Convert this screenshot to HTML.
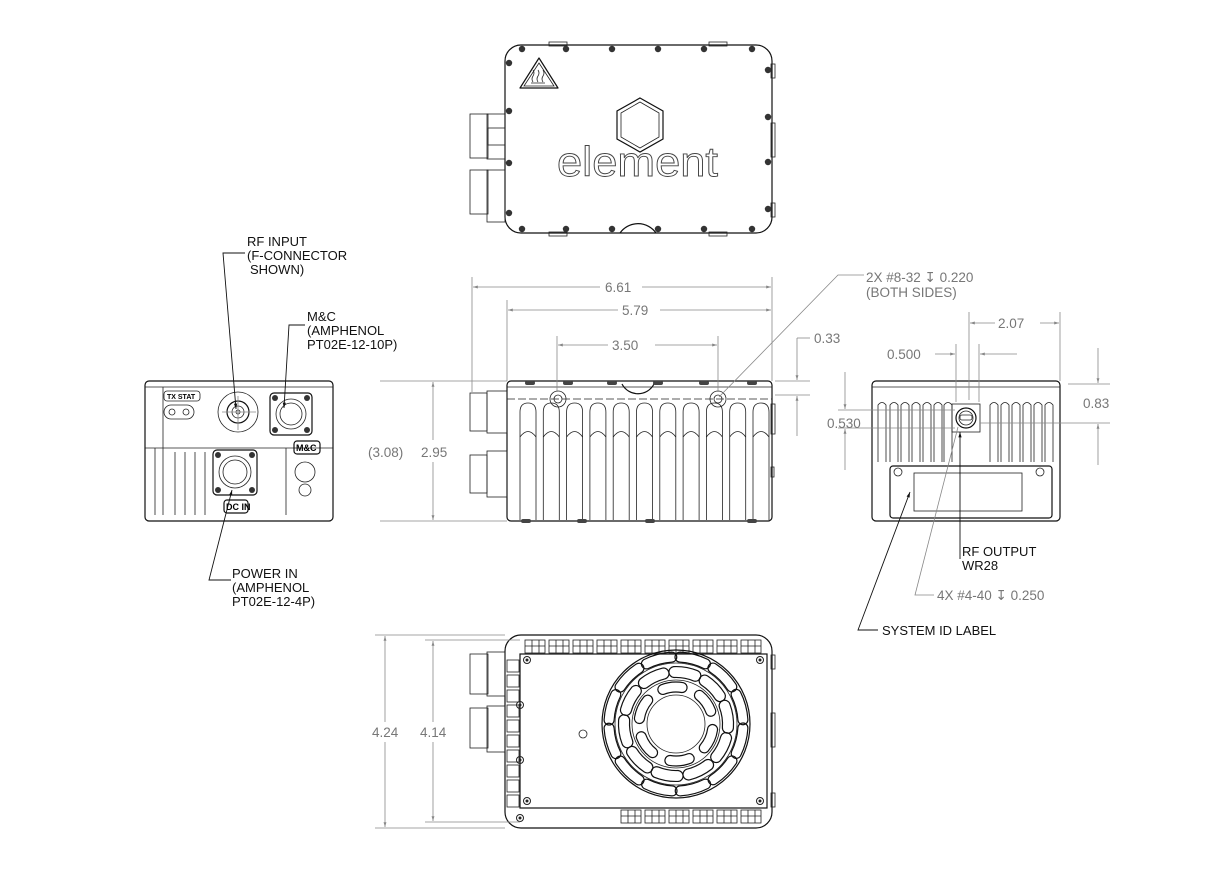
<!DOCTYPE html>
<html><head><meta charset="utf-8"><style>
html,body{margin:0;padding:0;background:#fff;}
svg{display:block;}
text{font-family:"Liberation Sans",sans-serif;}
.k{fill:#111;font-size:13px;}
.g{fill:#777;font-size:13.5px;}
.d{stroke:#888;stroke-width:0.8;fill:none;}
.b{stroke:#111;stroke-width:1.2;fill:none;}
.t{stroke:#222;stroke-width:0.8;fill:none;}
</style></head><body>
<svg id="s" width="1229" height="876" viewBox="0 0 1229 876" xmlns="http://www.w3.org/2000/svg">
<defs>
<marker id="a" viewBox="0 0 10 10" refX="10" refY="5" markerWidth="14" markerHeight="6" orient="auto-start-reverse"><path d="M0,2 L10,5 L0,8z" fill="#888"/></marker>
<marker id="ak" viewBox="0 0 10 10" refX="10" refY="5" markerWidth="12" markerHeight="6" orient="auto-start-reverse"><path d="M0,2 L10,5 L0,8z" fill="#111"/></marker>
</defs>

<!-- ============ TOP VIEW ============ -->
<g id="topv">
<rect x="505" y="45" width="267" height="188" rx="16" class="b"/>
<rect x="549" y="42" width="18" height="4" class="t"/><rect x="709" y="42" width="18" height="4" class="t"/>
<rect x="549" y="232" width="18" height="4" class="t"/><rect x="709" y="232" width="18" height="4" class="t"/>
<rect x="771" y="64" width="4" height="14" class="t"/><rect x="771" y="123" width="4" height="34" class="t"/><rect x="771" y="203" width="4" height="14" class="t"/>
<path d="M620,233 A22,22 0 0 1 656,233" class="b"/>
<path d="M539,58 L558,88 L520,88 Z" class="b" stroke-linejoin="round"/>
<path d="M539,63 L554,86 L524,86 Z" class="t"/>
<path d="M533,82 q-2,-3 0,-6 q2,-3 0,-6 M538,82 q-2,-3 0,-6 q2,-3 0,-6 M543,82 q-2,-3 0,-6 q2,-3 0,-6 M531,83 h14" class="t"/>
<path d="M640,98 L663,111 L663,139 L640,152 L617,139 L617,111 Z" class="b"/>
<path d="M640,102 L659,113 L659,137 L640,148 L621,137 L621,113 Z" class="t"/>
<text x="557" y="176" textLength="161" lengthAdjust="spacingAndGlyphs" style="font-size:42px;fill:#fff;stroke:#444;stroke-width:0.9">element</text>
<g class="t">
<rect x="470" y="114" width="18" height="44"/><rect x="487" y="114" width="18" height="45"/><rect x="488" y="128" width="17" height="17"/>
<rect x="470" y="170" width="18" height="44"/><rect x="487" y="170" width="18" height="52"/>
</g>
</g>

<!-- ============ FRONT (LEFT) VIEW ============ -->
<g id="front">
<rect x="145" y="381" width="188" height="140" rx="4" class="b"/>
<line x1="145" y1="387" x2="333" y2="387" class="t"/>
<line x1="145" y1="448" x2="333" y2="448" class="t"/>
<line x1="163" y1="387" x2="163" y2="448" class="t"/>
<rect x="164" y="391" width="36" height="10" rx="3" class="t"/>
<text x="167" y="399" style="font-size:7px;font-weight:bold">TX STAT</text>
<rect x="164" y="405" width="30" height="14" rx="7" class="t"/>
<circle cx="172" cy="412" r="3" class="t"/><circle cx="186" cy="412" r="3" class="t"/>
<circle cx="238" cy="412" r="20" class="t"/><circle cx="238" cy="412" r="11" class="b"/><circle cx="238" cy="412" r="6" class="t"/><circle cx="238" cy="412" r="2" class="t"/>
<rect x="270" y="393" width="42" height="42" rx="4" class="b"/>
<circle cx="291" cy="414" r="15" class="t"/><circle cx="291" cy="414" r="11" class="t"/>
<circle cx="275" cy="398" r="3" fill="#333"/><circle cx="307" cy="398" r="3" fill="#333"/><circle cx="275" cy="430" r="3" fill="#333"/><circle cx="307" cy="430" r="3" fill="#333"/>
<rect x="294" y="441" width="26" height="13" rx="3" class="b"/>
<text x="296" y="451" style="font-size:9px;font-weight:bold">M&amp;C</text>
<rect x="213" y="450" width="44" height="45" rx="4" class="b"/>
<circle cx="235" cy="472" r="16" class="t"/><circle cx="235" cy="472" r="12" class="t"/>
<circle cx="218" cy="455" r="3" fill="#333"/><circle cx="252" cy="455" r="3" fill="#333"/><circle cx="218" cy="490" r="3" fill="#333"/><circle cx="252" cy="490" r="3" fill="#333"/>
<rect x="224" y="500" width="24" height="13" rx="3" class="b"/>
<text x="226" y="510" style="font-size:9px;font-weight:bold">DC IN</text>
<circle cx="305" cy="472" r="10" class="t"/><circle cx="305" cy="490" r="6" class="t"/>
<g class="t"><line x1="155" y1="448" x2="155" y2="515"/><line x1="163" y1="448" x2="163" y2="515"/><line x1="175" y1="452" x2="175" y2="515"/><line x1="185" y1="452" x2="185" y2="515"/><line x1="195" y1="452" x2="195" y2="515"/><line x1="205" y1="452" x2="205" y2="515"/><line x1="286" y1="448" x2="286" y2="515"/></g>
</g>

<!-- ============ SIDE VIEW ============ -->
<g id="side">
<rect x="507" y="381" width="265" height="140" rx="4" class="b"/>
<line x1="507" y1="387" x2="772" y2="387" class="t"/>
<line x1="507" y1="399" x2="772" y2="399" class="t" stroke-dasharray="8 3"/>
<path d="M622,384 A18,18 0 0 0 654,384" class="b" fill="#fff"/>
<circle cx="558" cy="399" r="8" class="t"/><circle cx="558" cy="399" r="4" class="t"/>
<circle cx="718" cy="399" r="8" class="t"/><circle cx="718" cy="399" r="4" class="t"/>
<g id="fins" class="t"></g>
<g class="t">
<rect x="470" y="393" width="17" height="38"/><rect x="487" y="391" width="20" height="42"/>
<rect x="470" y="455" width="17" height="38"/><rect x="487" y="451" width="20" height="46"/>
<rect x="771" y="404" width="4" height="30"/><rect x="771" y="467" width="3" height="10"/>
</g>
</g>

<!-- ============ RIGHT VIEW ============ -->
<g id="right">
<rect x="872" y="381" width="188" height="140" rx="4" class="b"/>
<line x1="872" y1="387" x2="1060" y2="387" class="t"/>
<g id="rfins" class="t"></g>
<rect x="952" y="404" width="28" height="28" class="t"/>
<circle cx="966" cy="418" r="10" class="b"/><circle cx="966" cy="418" r="7" class="t"/>
<rect x="960" y="415" width="12" height="5" rx="2" class="t"/>
<rect x="890" y="466" width="162" height="52" rx="3" class="b"/>
<rect x="914" y="473" width="108" height="38" class="t"/>
<circle cx="898" cy="472" r="4" class="t"/><circle cx="1040" cy="472" r="4" class="t"/>
</g>

<!-- ============ BOTTOM VIEW ============ -->
<g id="bot">
<rect x="505" y="635" width="267" height="193" rx="16" class="b"/>
<rect x="520" y="654" width="247" height="154" class="b"/>
<g id="grid" class="t"></g>
<g class="t">
<rect x="470" y="654" width="18" height="40"/><rect x="487" y="652" width="18" height="44"/>
<rect x="470" y="708" width="18" height="40"/><rect x="487" y="706" width="18" height="46"/>
<rect x="771" y="655" width="4" height="14"/><rect x="771" y="713" width="4" height="34"/><rect x="771" y="793" width="4" height="14"/>
</g>
<circle cx="676" cy="724" r="74" class="b"/>
<circle cx="676" cy="724" r="61" class="t"/>
<circle cx="676" cy="724" r="44" class="t"/>
<circle cx="676" cy="724" r="29" class="t"/>
<g id="fan" class="b" stroke-width="1"></g>
<circle cx="583" cy="734" r="4" class="t"/>
</g>

<!-- ============ DIMENSIONS ============ -->
<g class="d">
<line x1="472" y1="277" x2="472" y2="392"/><line x1="772" y1="277" x2="772" y2="381"/>
<line x1="507" y1="300" x2="507" y2="381"/>
<line x1="557" y1="336" x2="557" y2="392"/><line x1="718" y1="336" x2="718" y2="392"/>
<line x1="473" y1="287" x2="600" y2="287" marker-start="url(#a)"/><line x1="642" y1="287" x2="771" y2="287" marker-end="url(#a)"/>
<line x1="508" y1="310" x2="618" y2="310" marker-start="url(#a)"/><line x1="660" y1="310" x2="771" y2="310" marker-end="url(#a)"/>
<line x1="558" y1="345" x2="608" y2="345" marker-start="url(#a)"/><line x1="655" y1="345" x2="717" y2="345" marker-end="url(#a)"/>
<line x1="380" y1="381" x2="507" y2="381"/><line x1="380" y1="521" x2="507" y2="521"/>
<line x1="433" y1="382" x2="433" y2="440" marker-start="url(#a)"/><line x1="433" y1="462" x2="433" y2="520" marker-end="url(#a)"/>
<line x1="775" y1="381" x2="810" y2="381"/><line x1="775" y1="395" x2="810" y2="395"/>
<line x1="797" y1="338" x2="810" y2="338"/>
<line x1="797" y1="338" x2="797" y2="380" marker-end="url(#a)"/>
<line x1="797" y1="436" x2="797" y2="396" marker-end="url(#a)"/>
<polyline points="719,397 838,275 864,275"/>
<line x1="969" y1="312" x2="969" y2="400"/><line x1="1060" y1="312" x2="1060" y2="381"/>
<line x1="970" y1="323" x2="995" y2="323" marker-start="url(#a)"/><line x1="1040" y1="323" x2="1059" y2="323" marker-end="url(#a)"/>
<line x1="956" y1="344" x2="956" y2="402"/><line x1="979" y1="344" x2="979" y2="402"/>
<line x1="935" y1="354" x2="955" y2="354" marker-end="url(#a)"/><line x1="1017" y1="354" x2="980" y2="354" marker-end="url(#a)"/>
<line x1="838" y1="410" x2="955" y2="410"/><line x1="838" y1="428" x2="955" y2="428"/>
<line x1="845" y1="372" x2="845" y2="409" marker-end="url(#a)"/><line x1="845" y1="470" x2="845" y2="429" marker-end="url(#a)"/>
<line x1="1068" y1="384" x2="1110" y2="384"/><line x1="980" y1="423" x2="1110" y2="423"/>
<line x1="1098" y1="348" x2="1098" y2="383" marker-end="url(#a)"/><line x1="1098" y1="465" x2="1098" y2="424" marker-end="url(#a)"/>
<polyline points="958,427 915,595 934,595"/>
<line x1="375" y1="635" x2="505" y2="635"/><line x1="375" y1="828" x2="505" y2="828"/>
<line x1="425" y1="640" x2="520" y2="640"/><line x1="425" y1="822" x2="520" y2="822"/>
<line x1="385" y1="636" x2="385" y2="722" marker-start="url(#a)"/><line x1="385" y1="742" x2="385" y2="827" marker-end="url(#a)"/>
<line x1="433" y1="641" x2="433" y2="722" marker-start="url(#a)"/><line x1="433" y1="742" x2="433" y2="821" marker-end="url(#a)"/>
<line x1="222" y1="412" x2="256" y2="412"/><line x1="238" y1="396" x2="238" y2="430"/>
</g>

<g stroke="#111" stroke-width="0.9" fill="none">
<polyline points="245,253 223,253 236,409" marker-end="url(#ak)"/>
<polyline points="305,325 289,325 284,408" marker-end="url(#ak)"/>
<polyline points="231,580 209,580 232,490" marker-end="url(#ak)"/>
<polyline points="960,559 960,432" marker-end="url(#ak)"/>
<polyline points="878,630 858,630 910,492" marker-end="url(#ak)"/>
</g>

<text class="k" x="247" y="246">RF INPUT</text>
<text class="k" x="247" y="260">(F-CONNECTOR</text>
<text class="k" x="250" y="274">SHOWN)</text>
<text class="k" x="307" y="321">M&amp;C</text>
<text class="k" x="307" y="335">(AMPHENOL</text>
<text class="k" x="307" y="349">PT02E-12-10P)</text>
<text class="k" x="232" y="578">POWER IN</text>
<text class="k" x="232" y="592">(AMPHENOL</text>
<text class="k" x="232" y="606">PT02E-12-4P)</text>
<text class="k" x="962" y="556">RF OUTPUT</text>
<text class="k" x="962" y="570">WR28</text>
<text class="k" x="882" y="635">SYSTEM ID LABEL</text>
<text class="g" x="866" y="282">2X #8-32 <tspan style="font-family:'DejaVu Sans'">↧</tspan> 0.220</text>
<text class="g" x="866" y="297">(BOTH SIDES)</text>
<text class="g" x="937" y="600">4X #4-40 <tspan style="font-family:'DejaVu Sans'">↧</tspan> 0.250</text>
<text class="g" x="605" y="292">6.61</text>
<text class="g" x="622" y="315">5.79</text>
<text class="g" x="612" y="350">3.50</text>
<text class="g" x="814" y="343">0.33</text>
<text class="g" x="998" y="328">2.07</text>
<text class="g" x="887" y="359">0.500</text>
<text class="g" x="827" y="428">0.530</text>
<text class="g" x="1083" y="408">0.83</text>
<text class="g" x="368" y="457">(3.08)</text>
<text class="g" x="421" y="457">2.95</text>
<text class="g" x="372" y="737">4.24</text>
<text class="g" x="420" y="737">4.14</text>
</svg>
<script>
(function(){
var NS="http://www.w3.org/2000/svg";
function el(p,t,a){var e=document.createElementNS(NS,t);for(var k in a)e.setAttribute(k,a[k]);p.appendChild(e);return e;}
var tv=document.getElementById('topv');
[[522,49],[566,49],[612,49],[658,49],[704,49],[752,49],[522,229],[566,229],[612,229],[658,229],[704,229],[752,229],[509,63],[509,111],[509,163],[509,213],[768,70],[768,117],[768,162],[768,209]].forEach(function(p){el(tv,'circle',{cx:p[0],cy:p[1],r:3.2,fill:'#333'});});
var f=document.getElementById('fins');
for(var i=0;i<11;i++){var x=520+i*23.3;el(f,'path',{d:'M'+x+',520 L'+x+',412 Q'+x+',403 '+(x+8)+',403 Q'+(x+16)+',403 '+(x+16)+',412 L'+(x+16)+',520'});el(f,'path',{d:'M'+x+',437 Q'+(x+8)+',426 '+(x+16)+',437'});}
var side=document.getElementById('side');
[[530,383],[568,383],[612,383],[658,383],[704,383],[752,383],[526,521],[582,521],[650,521],[752,521]].forEach(function(p){el(side,'rect',{x:p[0]-5,y:p[1]-2,width:10,height:4,rx:2,fill:'#444'});});
var r=document.getElementById('rfins');
[878,890,901,912,923,934,944,990,1001,1012,1023,1034,1045].forEach(function(x){el(r,'path',{d:'M'+x+',462 L'+x+',405 Q'+(x+4)+',400 '+(x+8)+',405 L'+(x+8)+',462'});});
var g=document.getElementById('grid');
for(var i=0;i<10;i++){var x=525+i*24;el(g,'rect',{x:x,y:640,width:20,height:13});el(g,'line',{x1:x+7,y1:640,x2:x+7,y2:653});el(g,'line',{x1:x+14,y1:640,x2:x+14,y2:653});el(g,'line',{x1:x,y1:646,x2:x+20,y2:646});
 if(i>3){el(g,'rect',{x:x,y:810,width:20,height:13});el(g,'line',{x1:x+7,y1:810,x2:x+7,y2:823});el(g,'line',{x1:x+14,y1:810,x2:x+14,y2:823});el(g,'line',{x1:x,y1:816,x2:x+20,y2:816});}}
for(var j=0;j<10;j++){el(g,'rect',{x:507,y:660+j*15,width:12,height:12});}
var bot=document.getElementById('bot');
[[527,660],[760,660],[527,801],[760,801],[520,705],[520,760],[520,818]].forEach(function(p){el(bot,'circle',{cx:p[0],cy:p[1],r:3.5,fill:'none',stroke:'#222','stroke-width':1});el(bot,'circle',{cx:p[0],cy:p[1],r:1.5,fill:'#222'});});
var fan=document.getElementById('fan');
function slot(rad,w,a0,a1){var c=[676,724];function pt(rr,a){return (c[0]+rr*Math.cos(a)).toFixed(1)+','+(c[1]+rr*Math.sin(a)).toFixed(1);}
var ro=rad+w/2,ri=rad-w/2;el(fan,'path',{d:'M'+pt(ro,a0)+' A'+ro+','+ro+' 0 0 1 '+pt(ro,a1)+' A'+w/2+','+w/2+' 0 0 1 '+pt(ri,a1)+' A'+ri+','+ri+' 0 0 0 '+pt(ri,a0)+' A'+w/2+','+w/2+' 0 0 1 '+pt(ro,a0)});}
for(var k=0;k<12;k++){var a=k*Math.PI/6;slot(67,10,a+0.06,a+0.46);}
for(var k=0;k<10;k++){var a=k*Math.PI/5+0.2;slot(52,11,a+0.07,a+0.5);}
for(var k=0;k<6;k++){var a=k*Math.PI/3;slot(37,10,a+0.15,a+0.7);}
})();
</script>
</body></html>
